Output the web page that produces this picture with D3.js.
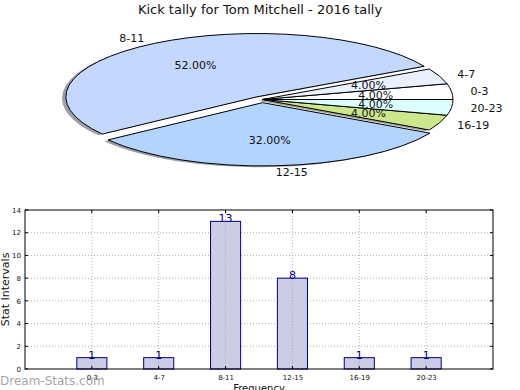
<!DOCTYPE html>
<html>
<head>
<meta charset="utf-8">
<script src="https://cdn.jsdelivr.net/npm/d3@7"></script>
<style>
  body{margin:0;background:#fff;}
  text{font-family:"DejaVu Sans",sans-serif;}
</style>
</head>
<body>
<div id="chart"></div>
<script>
var W=520,H=390;
var categories=["0-3","4-7","8-11","12-15","16-19","20-23"];
var counts=[1,1,13,8,1,1];
var sliceColors=["#ffffff","#eaf0ff","#c4d7ff","#b3d4ff","#cde88c","#dcffff"];
var explode=[0,0,0.05,0.05,0,0];
var yTicks=[0,2,4,6,8,10,12,14];
var titleText="Kick tally for Tom Mitchell - 2016 tally";

var svg=d3.select("#chart").append("svg").attr("width",W).attr("height",H);

svg.append("text").attr("x",260).attr("y",14).attr("text-anchor","middle")
  .style("font-size","13px").attr("fill","#111").text(titleText);

// ---------- pie (squashed ellipse, counter-clockwise from 3 o'clock) ----------
var cx=262,cy=99.5,rx=191,ry=63.3;
var total=d3.sum(counts);
var pie=d3.pie().sort(null).startAngle(Math.PI/2).endAngle(Math.PI/2-2*Math.PI);
var arcs=pie(counts);
var arc=d3.arc().innerRadius(0).outerRadius(1);

function off(d,e){
  var m=(d.startAngle+d.endAngle)/2;
  return [Math.sin(m)*e*rx, -Math.cos(m)*e*ry];
}
var pieg=svg.append("g");

// shadows
arcs.forEach(function(d,i){
  var o=off(d,explode[i]);
  var c=d3.rgb(sliceColors[i]);
  pieg.append("path")
    .attr("transform","translate("+(cx+o[0]-0.02*rx)+","+(cy+o[1]+0.02*ry)+") scale("+rx+","+ry+")")
    .attr("d",arc(d))
    .attr("fill",d3.rgb(c.r*0.3,c.g*0.3,c.b*0.3))
    .attr("fill-opacity",0.5);
});
arcs.forEach(function(d,i){
  var o=off(d,explode[i]);
  pieg.append("path")
    .attr("transform","translate("+(cx+o[0])+","+(cy+o[1])+") scale("+rx+","+ry+")")
    .attr("d",arc(d))
    .attr("fill",sliceColors[i])
    .attr("stroke","#000").attr("stroke-width",1)
    .attr("vector-effect","non-scaling-stroke");
});
arcs.forEach(function(d,i){
  var o=off(d,explode[i]);
  var m=(d.startAngle+d.endAngle)/2;
  var sx=Math.sin(m),sy=-Math.cos(m);
  pieg.append("text")
    .attr("x",cx+o[0]+1.1*rx*sx).attr("y",cy+o[1]+1.1*ry*sy)
    .attr("dy","0.35em")
    .attr("text-anchor",sx>0?"start":"end")
    .style("font-size","11px").attr("fill","#111")
    .text(categories[i]);
  pieg.append("text")
    .attr("x",cx+o[0]+0.6*rx*sx).attr("y",cy+o[1]+0.6*ry*sy)
    .attr("dy","0.35em").attr("text-anchor","middle")
    .style("font-size","11px").attr("fill","#111")
    .text((counts[i]/total*100).toFixed(2)+"%");
});

// ---------- bar chart ----------
var pL=25,pR=493,pT=210,pB=369;
var x=d3.scaleLinear().domain([-1,categories.length]).range([pL,pR]);
var y=d3.scaleLinear().domain([0,14]).range([pB,pT]);
var barW=x(0.45)-x(0);

var g=svg.append("g");
// grid
g.selectAll(".hg").data(yTicks.slice(1,-1)).enter().append("line")
  .attr("x1",pL).attr("x2",pR).attr("y1",d=>y(d)).attr("y2",d=>y(d))
  .attr("stroke","#b0b0b0").attr("stroke-dasharray","1,2");
g.selectAll(".vg").data(categories).enter().append("line")
  .attr("x1",(d,i)=>x(i)).attr("x2",(d,i)=>x(i)).attr("y1",pT).attr("y2",pB)
  .attr("stroke","#b0b0b0").attr("stroke-dasharray","1,2");

g.selectAll("rect.bar").data(counts).enter().append("rect")
  .attr("x",(d,i)=>x(i)-barW/2).attr("width",barW)
  .attr("y",d=>y(d)).attr("height",d=>pB-y(d))
  .attr("fill","#cccce6").attr("stroke","#000080").attr("stroke-width",1);

// grid shows through the bars in the reference
g.selectAll(".vg2").data(categories).enter().append("line")
  .attr("x1",(d,i)=>x(i)).attr("x2",(d,i)=>x(i))
  .attr("y1",(d,i)=>y(counts[i])+1).attr("y2",pB)
  .attr("stroke","#a8a8b8").attr("stroke-dasharray","1,2");

g.selectAll("text.val").data(counts).enter().append("text")
  .attr("x",(d,i)=>x(i)).attr("y",d=>y(d)+1)
  .attr("text-anchor","middle").style("font-size","11px").attr("fill","#000080")
  .text(d=>d);

// axes
var yAxis=d3.axisLeft(y).tickValues(yTicks).tickSize(0).tickPadding(4);
var ya=g.append("g").attr("transform","translate("+pL+",0)").call(yAxis);
ya.select(".domain").remove();
ya.selectAll("text").style("font-size","7px").attr("fill","#111").style("font-family","DejaVu Sans");

var xAxis=d3.axisBottom(x).tickValues(d3.range(categories.length)).tickFormat(i=>categories[i]).tickSize(0).tickPadding(6);
var xa=g.append("g").attr("transform","translate(0,"+pB+")").call(xAxis);
xa.select(".domain").remove();
xa.selectAll("text").style("font-size","7px").attr("fill","#111").style("font-family","DejaVu Sans");

// small inward ticks
yTicks.forEach(function(t){
  g.append("line").attr("x1",pL).attr("x2",pL+3).attr("y1",y(t)).attr("y2",y(t)).attr("stroke","#000");
  g.append("line").attr("x1",pR).attr("x2",pR-3).attr("y1",y(t)).attr("y2",y(t)).attr("stroke","#000");
});
categories.forEach(function(c,i){
  g.append("line").attr("x1",x(i)).attr("x2",x(i)).attr("y1",pB).attr("y2",pB-3).attr("stroke","#000");
  g.append("line").attr("x1",x(i)).attr("x2",x(i)).attr("y1",pT).attr("y2",pT+3).attr("stroke","#000");
});

g.append("rect").attr("x",pL).attr("y",pT).attr("width",pR-pL).attr("height",pB-pT)
  .attr("fill","none").attr("stroke","#000").attr("stroke-width",1);

svg.append("text").attr("transform","translate(9,"+((pT+pB)/2)+") rotate(-90)")
  .attr("text-anchor","middle").style("font-size","11px").attr("fill","#111").text("Stat Intervals");
svg.append("text").attr("x",(pL+pR)/2).attr("y",392)
  .attr("text-anchor","middle").style("font-size","10px").attr("fill","#111").text("Frequency");

svg.append("text").attr("x",0).attr("y",385)
  .style("font-size","12px").attr("fill","#999").attr("fill-opacity",0.9)
  .text("Dream-Stats.com");
</script>
</body>
</html>
